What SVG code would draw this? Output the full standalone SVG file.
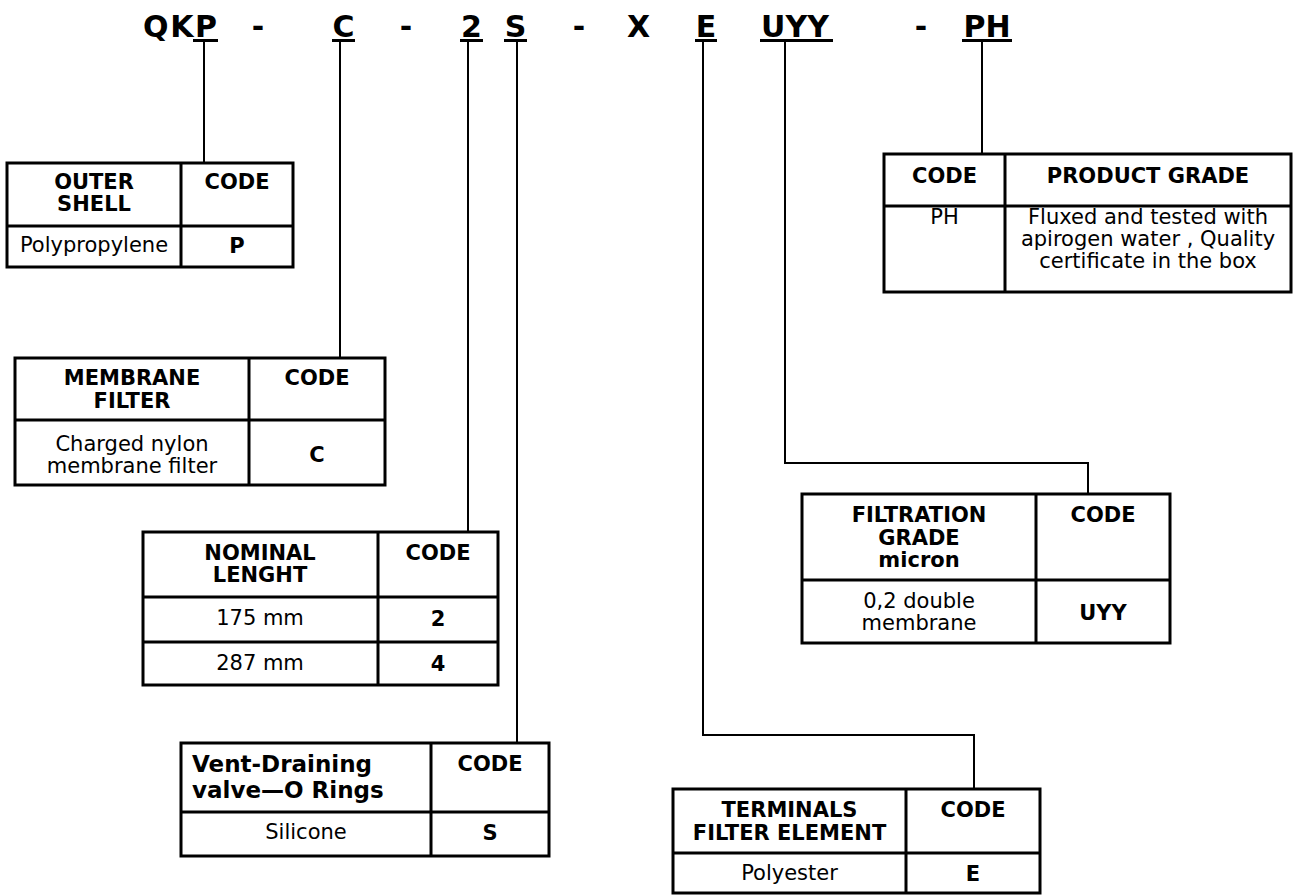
<svg xmlns="http://www.w3.org/2000/svg" width="1298" height="895" viewBox="0 0 1298 895">
<style>
  text { font-family: "DejaVu Sans", Verdana, sans-serif; fill: #000; }
  .title { font-size: 30px; font-weight: bold; text-anchor: middle; }
  .b { font-size: 21px; font-weight: bold; text-anchor: middle; }
  .r { font-size: 21px; text-anchor: middle; }
  .bl { font-size: 23px; font-weight: bold; text-anchor: start; }
  .tb { fill: #fff; stroke: #000; stroke-width: 3; }
  .gl { stroke: #000; stroke-width: 3; fill: none; }
  .ul { stroke: #000; stroke-width: 3; }
  .cn { stroke: #000; stroke-width: 2; fill: none; }
</style>
<rect width="1298" height="895" fill="#fff"/>

<g id="title">
  <text class="title" x="143" y="37" style="text-anchor:start" textLength="74">QKP</text>
  <text class="title" x="258" y="37">-</text>
  <text class="title" x="343.5" y="37">C</text>
  <text class="title" x="406" y="37">-</text>
  <text class="title" x="471.5" y="37">2</text>
  <text class="title" x="515.5" y="37">S</text>
  <text class="title" x="579" y="37">-</text>
  <text class="title" x="638.5" y="37">X</text>
  <text class="title" x="706" y="37">E</text>
  <text class="title" x="795" y="37">UYY</text>
  <text class="title" x="921" y="37">-</text>
  <text class="title" x="987" y="37">PH</text>
  <line class="ul" x1="193" y1="40.5" x2="218" y2="40.5"/>
  <line class="ul" x1="332" y1="40.5" x2="355" y2="40.5"/>
  <line class="ul" x1="460" y1="40.5" x2="483" y2="40.5"/>
  <line class="ul" x1="504" y1="40.5" x2="527" y2="40.5"/>
  <line class="ul" x1="695" y1="40.5" x2="717" y2="40.5"/>
  <line class="ul" x1="760" y1="40.5" x2="833" y2="40.5"/>
  <line class="ul" x1="962" y1="40.5" x2="1012" y2="40.5"/>
</g>

<g id="connectors">
  <path class="cn" d="M204 42 V163"/>
  <path class="cn" d="M340 42 V358"/>
  <path class="cn" d="M468 42 V532"/>
  <path class="cn" d="M517 42 V743"/>
  <path class="cn" d="M982 42 V154"/>
  <path class="cn" d="M785 42 V463 H1088 V494"/>
  <path class="cn" d="M703 42 V735 H974 V789" stroke-width="1.6"/>
</g>

<g id="outer-shell">
  <rect class="tb" x="7" y="163" width="286" height="104"/>
  <path class="gl" d="M181 163 V267 M7 226 H293"/>
  <text class="b" x="94" y="189">OUTER</text>
  <text class="b" x="94" y="211">SHELL</text>
  <text class="b" x="237" y="189">CODE</text>
  <text class="r" x="94" y="252">Polypropylene</text>
  <text class="b" x="237" y="253">P</text>
</g>

<g id="membrane-filter">
  <rect class="tb" x="15" y="358" width="370" height="127"/>
  <path class="gl" d="M249 358 V485 M15 420 H385"/>
  <text class="b" x="132" y="385">MEMBRANE</text>
  <text class="b" x="132" y="408">FILTER</text>
  <text class="b" x="317" y="385">CODE</text>
  <text class="r" x="132" y="451">Charged nylon</text>
  <text class="r" x="132" y="473">membrane filter</text>
  <text class="b" x="317" y="462">C</text>
</g>

<g id="nominal-length">
  <rect class="tb" x="143" y="532" width="355" height="153"/>
  <path class="gl" d="M378 532 V685 M143 597 H498 M143 642 H498"/>
  <text class="b" x="260" y="560">NOMINAL</text>
  <text class="b" x="260" y="582">LENGHT</text>
  <text class="b" x="438" y="560">CODE</text>
  <text class="r" x="260" y="625">175 mm</text>
  <text class="b" x="438" y="626">2</text>
  <text class="r" x="260" y="670">287 mm</text>
  <text class="b" x="438" y="671">4</text>
</g>

<g id="vent-draining">
  <rect class="tb" x="181" y="743" width="368" height="113"/>
  <path class="gl" d="M431 743 V856 M181 812 H549"/>
  <text class="bl" x="192" y="772">Vent-Draining</text>
  <text class="bl" x="192" y="798">valve—O Rings</text>
  <text class="b" x="490" y="771">CODE</text>
  <text class="r" x="306" y="839">Silicone</text>
  <text class="b" x="490" y="840">S</text>
</g>

<g id="product-grade">
  <rect class="tb" x="884" y="154" width="407" height="138"/>
  <path class="gl" d="M1005 154 V292 M884 206 H1291"/>
  <text class="b" x="944.5" y="183">CODE</text>
  <text class="b" x="1148" y="183">PRODUCT GRADE</text>
  <text class="r" x="944.5" y="224">PH</text>
  <text class="r" x="1148" y="224">Fluxed and tested with</text>
  <text class="r" x="1148" y="246">apirogen water , Quality</text>
  <text class="r" x="1148" y="268">certificate in the box</text>
</g>

<g id="filtration-grade">
  <rect class="tb" x="802" y="494" width="368" height="149"/>
  <path class="gl" d="M1036 494 V643 M802 580 H1170"/>
  <text class="b" x="919" y="522">FILTRATION</text>
  <text class="b" x="919" y="545">GRADE</text>
  <text class="b" x="919" y="567">micron</text>
  <text class="b" x="1103" y="522">CODE</text>
  <text class="r" x="919" y="608">0,2 double</text>
  <text class="r" x="919" y="630">membrane</text>
  <text class="b" x="1103" y="620">UYY</text>
</g>

<g id="terminals">
  <rect class="tb" x="673" y="789" width="367" height="104"/>
  <path class="gl" d="M906 789 V893 M673 853 H1040"/>
  <text class="b" x="789.5" y="817">TERMINALS</text>
  <text class="b" x="789.5" y="840">FILTER ELEMENT</text>
  <text class="b" x="973" y="817">CODE</text>
  <text class="r" x="789.5" y="880">Polyester</text>
  <text class="b" x="973" y="881">E</text>
</g>
</svg>
